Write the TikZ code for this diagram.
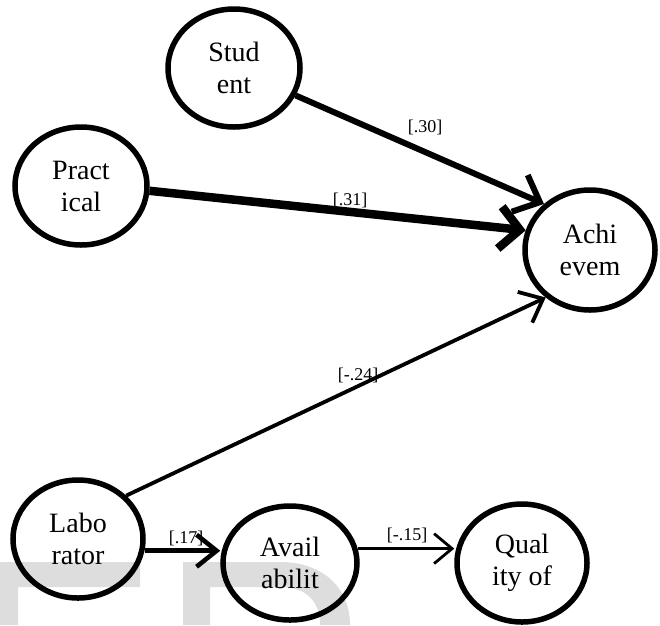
\documentclass[tikz,border=0pt]{standalone}
\usepackage{fontspec}
\setmainfont{Liberation Serif}
\usetikzlibrary{arrows.meta,shapes.geometric}
\definecolor{wm}{RGB}{221,221,221}
\tikzset{
  var/.style={draw=black, line width=5.5pt, ellipse, minimum width=132pt, minimum height=118pt, inner sep=0pt, align=center, font=\fontsize{28}{32}\selectfont},
  lbl/.style={inner sep=0pt, font=\fontsize{18}{20}\selectfont},
  conn/.style={draw=black, line cap=butt},
}
\begin{document}
\begin{tikzpicture}[x=1pt,y=-1pt]
\useasboundingbox (0,0) rectangle (660,625);
% watermark
\fill[wm] (0,562) -- (140,562) -- (140,587) -- (18,587) -- (18,625) -- (0,625) -- cycle;
\fill[wm] (183,625) -- (183,562) -- (280,562) .. controls (325,562) and (350,590) .. (350,625) -- (320,625)
   .. controls (320,600) and (305,587) .. (280,587) -- (210,587) -- (210,625) -- cycle;
% nodes
\node[var] (stu) at (234,68) {Stud\\ent};
\node[var] (pra) at (81,186) {Pract\\ical};
\node[var, minimum width=130pt, minimum height=120pt] (ach) at (590,250) {Achi\\evem};
\node[var, minimum width=130pt] (lab) at (78,539) {Labo\\rator};
\node[var, minimum width=134pt, minimum height=114pt] (ava) at (290,563) {Avail\\abilit};
\node[var, minimum width=130pt] (qua) at (522,563) {Qual\\ity of};
% connectors
\draw[conn, line width=6pt, -{Straight Barb[length=22pt,width=40pt]}] (stu.-24) -- (ach.135);
\draw[conn, line width=8.5pt, -{Straight Barb[length=20pt,width=42pt]}] (pra.-4) -- (ach.163);
\draw[conn, line width=3.8pt, -{Straight Barb[length=20pt,width=34pt]}] (lab.42) -- (ach.227);
\draw[conn, line width=4.6pt, -{Straight Barb[length=20pt,width=32pt]}] (lab.-10) -- (lab.-10 -| ava.west);
\draw[conn, line width=2.8pt, -{Straight Barb[length=18pt,width=30pt]}] (ava.12) -- (ava.12 -| qua.west);
% labels
\node[lbl] (l30) at (425,127) {[.30]};
\node[lbl] (l31) at (350,200) {[.31]};
\node[lbl] (l24) at (358,375) {[-.24]};
\node[lbl] (l17) at (186,538) {[.17]};
\node[lbl] (l15) at (407,535) {[-.15]};
\end{tikzpicture}
\end{document}
